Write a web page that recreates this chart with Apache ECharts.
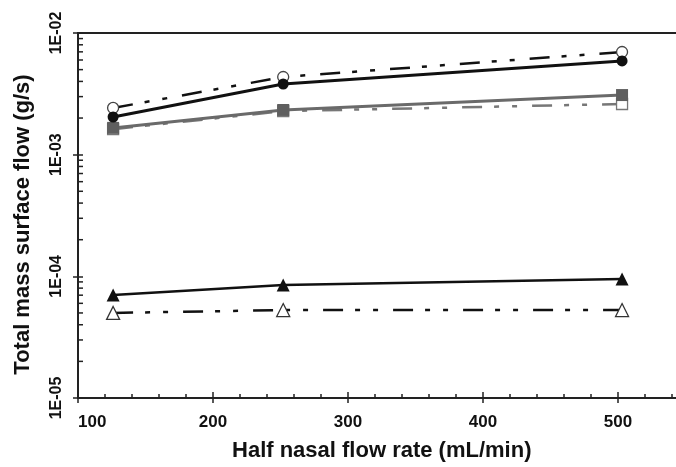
<!DOCTYPE html>
<html><head><meta charset="utf-8">
<script src="https://cdn.jsdelivr.net/npm/echarts@6/dist/echarts.min.js"></script>
<style>html,body{margin:0;padding:0;background:#fff}#c{width:676px;height:467px}</style>
</head><body><div id="c"></div>
<script>
// Data
const flowRates = [126, 252, 503];
const openCircle = [2.42e-3, 4.35e-3, 6.98e-3];
const filledCircle = [2.04e-3, 3.81e-3, 5.89e-3];
const filledSquare = [1.66e-3, 2.33e-3, 3.09e-3];
const openSquare = [1.62e-3, 2.28e-3, 2.61e-3];
const filledTriangle = [7.03e-5, 8.49e-5, 9.51e-5];
const openTriangle = [5.0e-5, 5.28e-5, 5.28e-5];
const xTickLabels = ['100', '200', '300', '400', '500'];
const yTickLabels = ['1E-05', '1E-04', '1E-03', '1E-02'];
const yMinorTicks = [2e-5, 3e-5, 4e-5, 5e-5, 6e-5, 7e-5, 8e-5, 9e-5,
                     2e-4, 3e-4, 4e-4, 5e-4, 6e-4, 7e-4, 8e-4, 9e-4,
                     2e-3, 3e-3, 4e-3, 5e-3, 6e-3, 7e-3, 8e-3, 9e-3];

const FONT = 'Liberation Sans';
const dashPat = [20, 12, 5, 13, 5, 15];
const pairs = arr => flowRates.map((x, i) => [x, arr[i]]);

const chart = echarts.init(document.getElementById('c'), null, {renderer: 'canvas'});
const xBase = {
  type: 'value', min: 100, max: 550, interval: 100, gridIndex: 0, position: 'bottom',
  splitLine: {show: false}
};
const yBase = {
  type: 'log', logBase: 10, min: 1e-5, max: 1e-2, gridIndex: 0, position: 'left',
  splitLine: {show: false}
};
chart.setOption({
  animation: false,
  backgroundColor: '#fff',
  grid: {left: 78, top: 33, right: -9.5, bottom: 69, show: true, borderColor: '#222', borderWidth: 2,
         containLabel: false, outerBoundsMode: 'none'},
  xAxis: [
    Object.assign({}, xBase, {
      name: 'Half nasal flow rate (mL/min)', nameLocation: 'middle', nameGap: 42,
      nameTextStyle: {fontFamily: FONT, fontSize: 22, fontWeight: 'bold', color: '#111'},
      axisLine: {show: true, onZero: false, lineStyle: {color: '#222', width: 2}},
      axisTick: {show: true, inside: true, length: 6, lineStyle: {color: '#222', width: 1.5}},
      minorTick: {show: true, splitNumber: 5, length: 4, lineStyle: {color: '#222', width: 1.5}},
      axisLabel: {margin: 16, fontFamily: FONT, fontSize: 17, fontWeight: 'bold', color: '#111',
        alignMinLabel: 'left',
        formatter: v => { const i = (v - 100) / 100; return Number.isInteger(i) && xTickLabels[i] ? xTickLabels[i] : ''; }}
    }),
    Object.assign({}, xBase, {
      axisLine: {show: false}, axisLabel: {show: false},
      axisTick: {show: true, inside: false, length: 5, lineStyle: {color: '#222', width: 1.5}}
    })
  ],
  yAxis: [
    Object.assign({}, yBase, {
      name: 'Total mass surface flow (g/s)', nameLocation: 'middle', nameGap: 44, nameRotate: 90,
      nameTextStyle: {fontFamily: FONT, fontSize: 22, fontWeight: 'bold', color: '#111', padding: [0, 18, 0, 0]},
      axisLine: {show: true, onZero: false, lineStyle: {color: '#222', width: 2}},
      axisTick: {show: true, inside: true, length: 5, lineStyle: {color: '#222', width: 1.5}},
      axisLabel: {rotate: 90, margin: 13, fontFamily: FONT, fontSize: 16, fontWeight: 'bold', color: '#111',
        formatter: v => yTickLabels[Math.round(Math.log10(v)) + 5] || ''}
    }),
    Object.assign({}, yBase, {
      axisLine: {show: false}, axisLabel: {show: false},
      axisTick: {show: true, inside: false, length: 5, lineStyle: {color: '#222', width: 1.5}}
    })
  ],
  series: [
    {
      type: 'custom', xAxisIndex: 0, yAxisIndex: 0, silent: true, clip: false, z: 1,
      data: yMinorTicks.map(v => [100, v]),
      renderItem: (params, api) => {
        const p = api.coord([api.value(0), api.value(1)]);
        return {type: 'line', shape: {x1: p[0], y1: p[1], x2: p[0] + 5, y2: p[1]},
                style: {stroke: '#222', lineWidth: 1.5}};
      }
    },
    {
      name: 'openSquare', type: 'line', data: pairs(openSquare), symbol: 'rect', symbolSize: 11,
      itemStyle: {color: '#fff', borderColor: '#777', borderWidth: 1.3},
      lineStyle: {color: '#777', width: 2.5, type: dashPat}, z: 2
    },
    {
      name: 'filledSquare', type: 'line', data: pairs(filledSquare), symbol: 'rect', symbolSize: 12,
      itemStyle: {color: '#5f5f5f'},
      lineStyle: {color: '#6a6a6a', width: 3, type: 'solid'}, z: 3
    },
    {
      name: 'openCircle', type: 'line', data: pairs(openCircle), symbol: 'circle', symbolSize: 11,
      itemStyle: {color: '#fff', borderColor: '#444', borderWidth: 1.3},
      lineStyle: {color: '#111', width: 2.5, type: dashPat}, z: 4
    },
    {
      name: 'filledCircle', type: 'line', data: pairs(filledCircle), symbol: 'circle', symbolSize: 11,
      itemStyle: {color: '#111'},
      lineStyle: {color: '#111', width: 3, type: 'solid'}, z: 5
    },
    {
      name: 'openTriangle', type: 'line', data: pairs(openTriangle), symbol: 'triangle', symbolSize: 13,
      itemStyle: {color: '#fff', borderColor: '#333', borderWidth: 1.3},
      lineStyle: {color: '#111', width: 2.5, type: dashPat}, z: 4
    },
    {
      name: 'filledTriangle', type: 'line', data: pairs(filledTriangle), symbol: 'triangle', symbolSize: 13,
      itemStyle: {color: '#111'},
      lineStyle: {color: '#111', width: 2.5, type: 'solid'}, z: 5
    }
  ]
});
</script>
</body></html>
